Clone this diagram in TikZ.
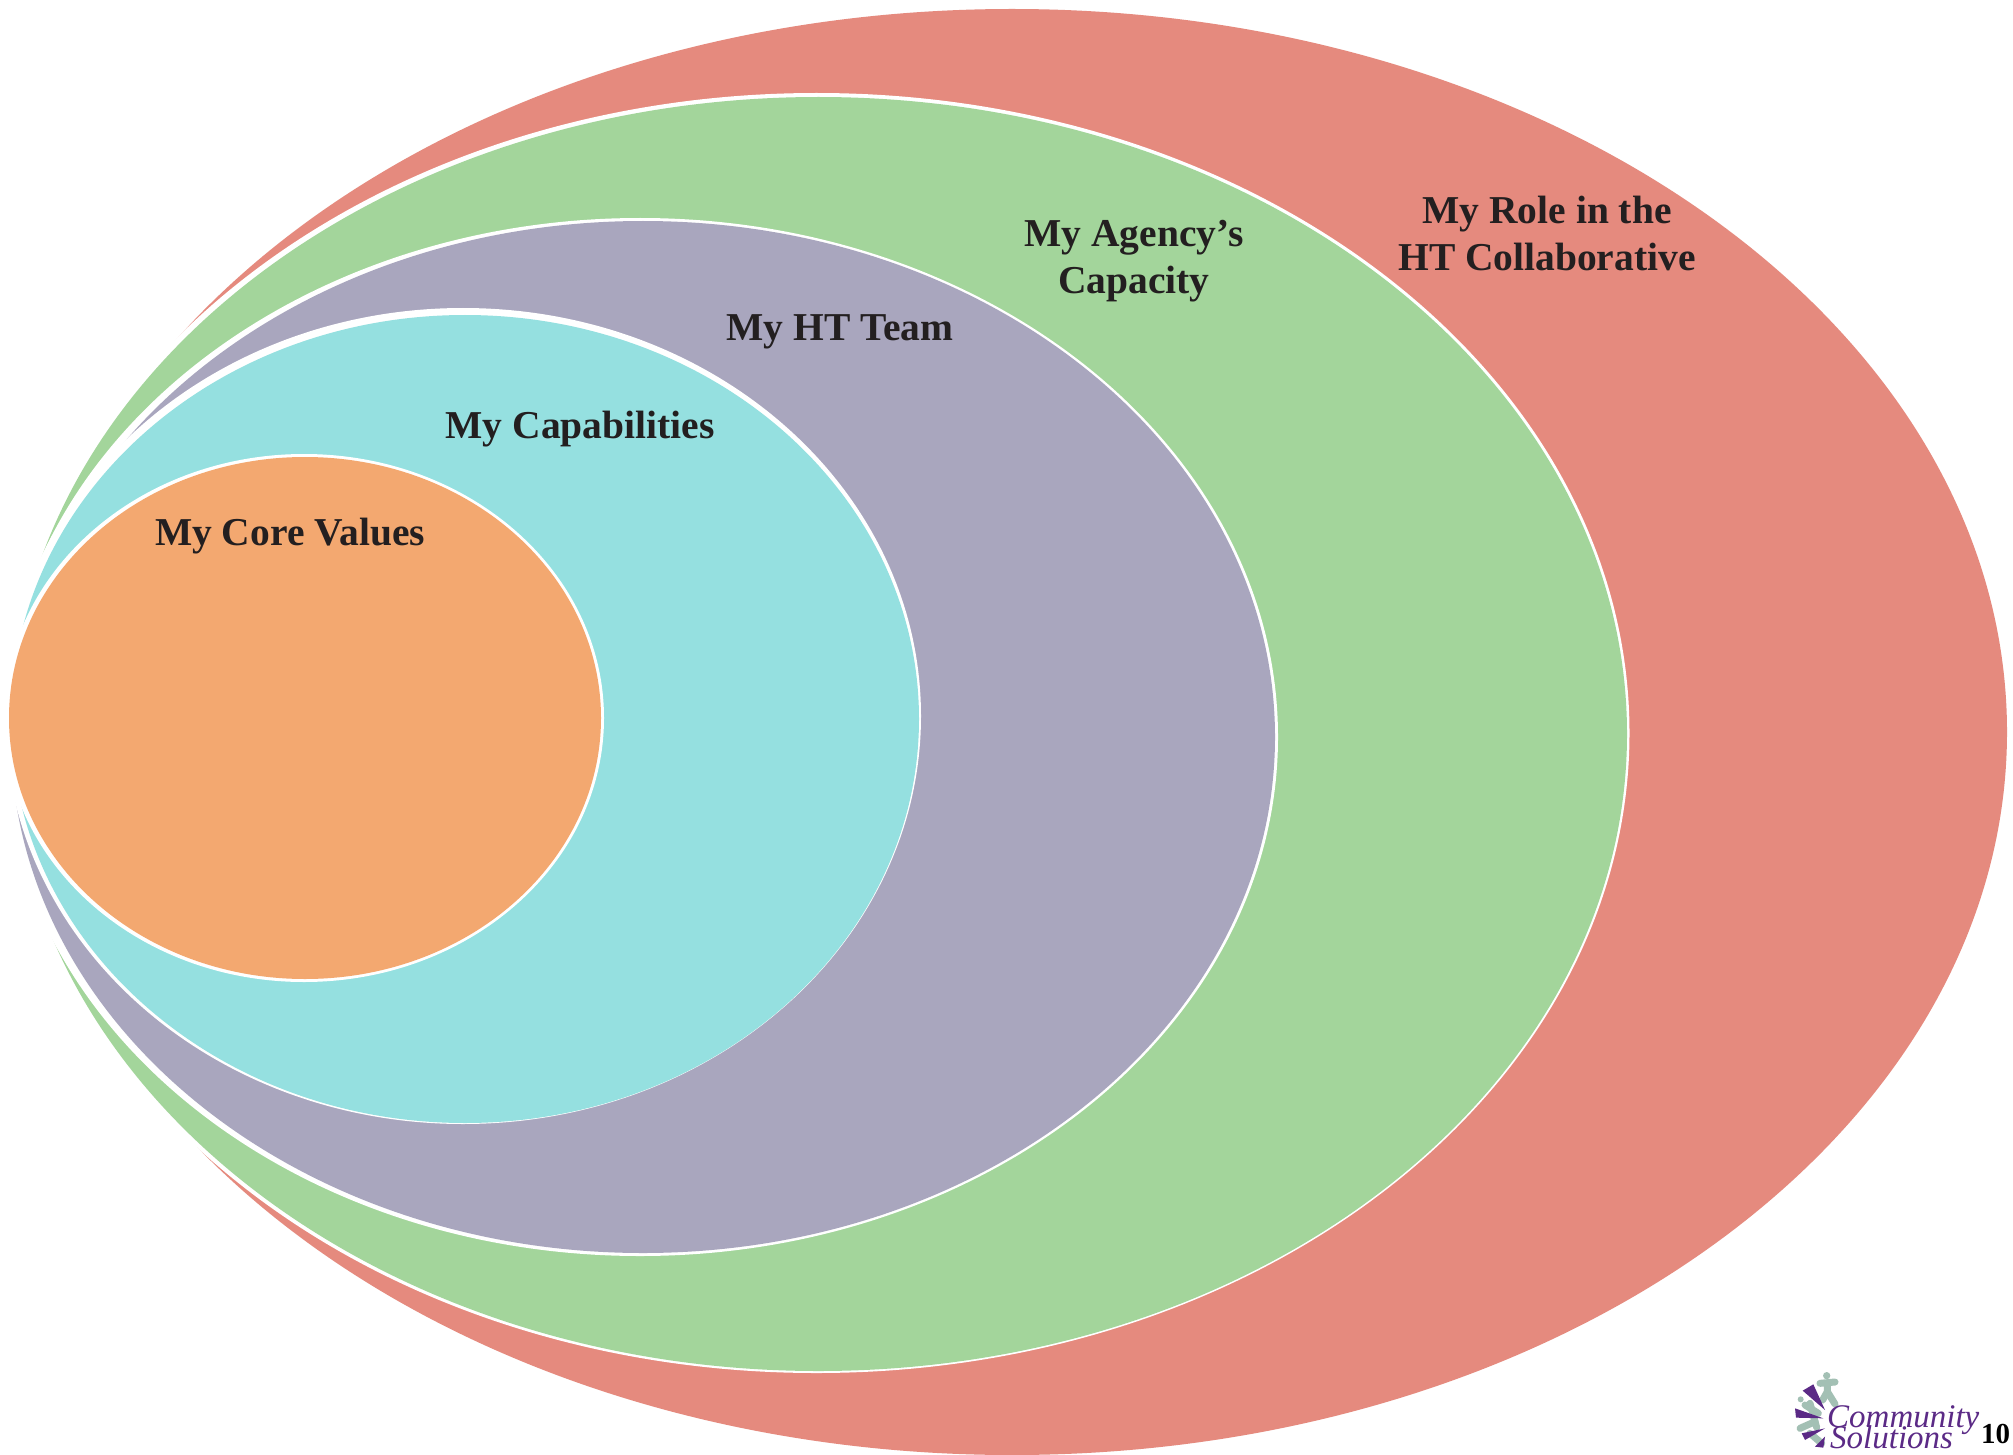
\documentclass[tikz,border=0pt]{standalone}
\usepackage{fontspec}
\setmainfont{Liberation Serif}
\definecolor{rolered}{HTML}{E58A7E}
\definecolor{agencygreen}{HTML}{A3D59B}
\definecolor{teampurple}{HTML}{A9A6BE}
\definecolor{capcyan}{HTML}{95E0E0}
\definecolor{coreorange}{HTML}{F3A870}
\definecolor{logopurple}{HTML}{5B2A86}
\definecolor{logosage}{HTML}{A3C0B4}
\definecolor{labelink}{HTML}{231F20}
\tikzset{
ringlabel/.style={font=\bfseries\fontsize{39.5}{47}\selectfont,text=labelink,align=center,inner sep=0pt},
wedge/.style={fill=logopurple,draw=none},
figure/.style={draw=logosage,line width=7pt,line cap=round},
logotext/.style={font=\itshape\fontsize{33}{33}\selectfont,text=logopurple,anchor=base west,inner sep=0pt},
}
\begin{document}
\begin{tikzpicture}[x=1pt,y=-1pt]
\useasboundingbox (0,0) rectangle (2013,1455);
\fill[white] (0,0) rectangle (2013,1455);
\fill[rolered] (1012,732) ellipse [x radius=995,y radius=723];
% each ring: white halo first (edit the first four numbers), then the colour
\foreach \hx/\hy/\hrx/\hry/\cx/\cy/\rx/\ry/\tone in {816.5/733/813/640/818.5/734/808.5/637/agencygreen,
640/737/638/519/643/737/632/516/teampurple,
463/716/458/408/465/719/454/404/capcyan,
304/718/300/264/305/718/296/261/coreorange}{
\fill[white] (\hx,\hy) ellipse [x radius=\hrx,y radius=\hry];
\fill[\tone] (\cx,\cy) ellipse [x radius=\rx,y radius=\ry];}
% labels
\node[ringlabel] (rolelabel) at (1547,233) {My Role in the\\HT Collaborative};
\node[ringlabel] (agencylabel) at (1134,261) {My Agency’s\\Capacity};
\node[ringlabel] (teamlabel) at (840,332) {My HT Team};
\node[ringlabel] (caplabel) at (580,429) {My Capabilities};
\node[ringlabel] (corelabel) at (290,536) {My Core Values};
% logo, in its own little grid
\begin{scope}[shift={(1760,1350)},x=0.3333pt,y=-0.3333pt]
\fill[logosage] (200,77) circle [radius=11];
\draw[figure] (180,100) -- (225,96);
\draw[figure] (202,100) -- (202,125) -- (188,150);
\draw[figure] (202,125) -- (225,162);
\fill[logosage] (122,148) circle [radius=9];
\draw[figure] (135,165) -- (175,190);
\draw[figure] (150,160) -- (165,215);
\draw[figure] (120,235) -- (165,215) -- (170,232);
\draw[figure] (150,250) -- (185,280);
\foreach \a/\b/\c/\d/\e/\f in {195/180/128/122/160/103,190/205/105/175/108/203,195/235/125/250/135/270,195/260/165/290/190/293}
\fill[wedge] (\a,\b) -- (\c,\d) -- (\e,\f) -- cycle;
\end{scope}
\node[logotext] (logotop) at (1827,1427) {Community};
\node[logotext] (logobottom) at (1830,1448) {Solutions};
\node[font=\bfseries\fontsize{29}{29}\selectfont,text=black,anchor=base west,inner sep=0pt] (pagenum) at (1981,1443) {10};
\end{tikzpicture}
\end{document}
